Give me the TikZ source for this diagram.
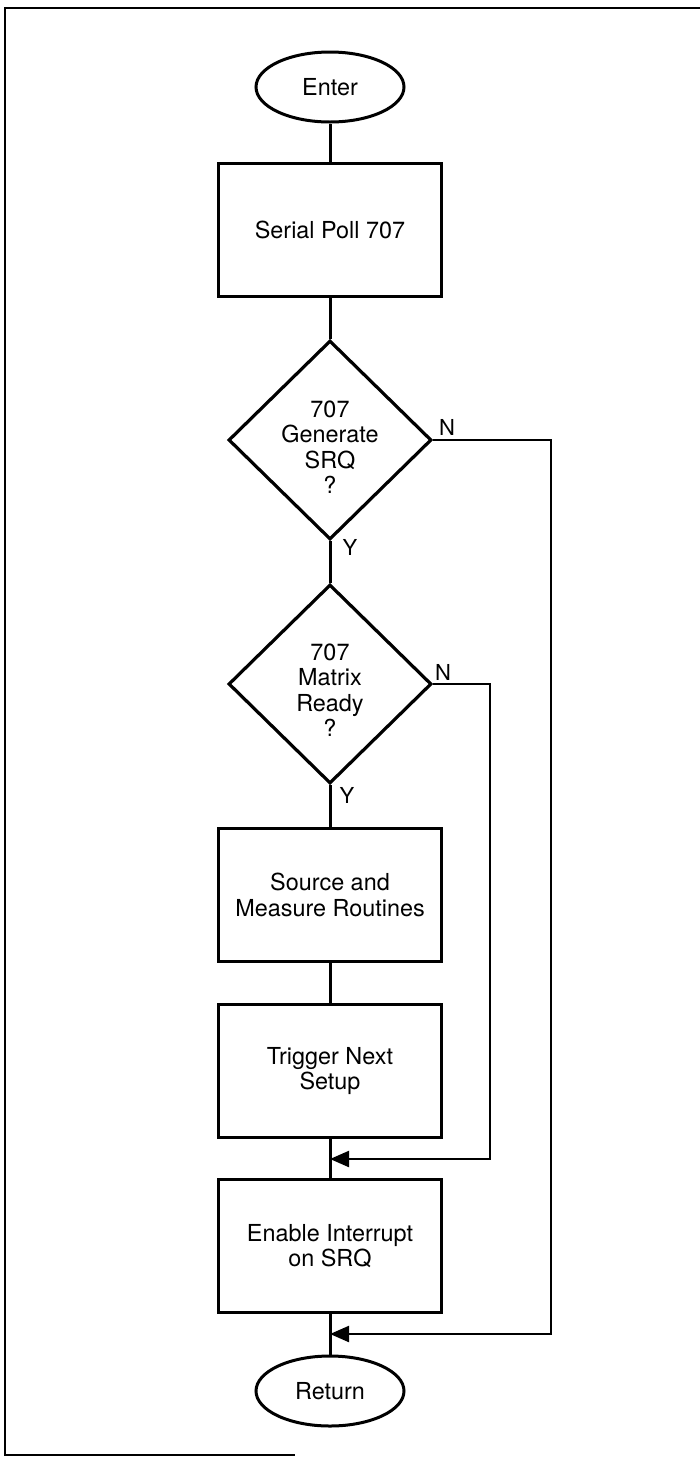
\documentclass[tikz,border=0pt]{standalone}
\usepackage{fontspec}
\setmainfont{TeX Gyre Heros}
\usetikzlibrary{shapes.geometric,arrows.meta}

\begin{document}
\begin{tikzpicture}[x=0.5pt, y=-0.5pt, every node/.style={font=\fontsize{11.7}{12.7}\selectfont, align=center, inner sep=0pt},
	flowbox/.style={draw, line width=1.5pt, minimum width=111.5pt, minimum height=66.5pt},
	terminal/.style={draw, ellipse, line width=1.5pt, minimum width=74pt, minimum height=35pt},
	decision/.style={draw, diamond, line width=1.6pt, minimum width=101.5pt, minimum height=99.5pt},
	flowline/.style={line width=1.5pt},
	loopline/.style={line width=1.1pt, -{Triangle[length=9.5pt, width=8pt]}},
	yn/.style={font=\fontsize{11}{12}\selectfont}]
	\useasboundingbox (0,0) rectangle (700,1457);
	\draw[line width=1pt] (700,8) -- (5,8) -- (5,1455) -- (295,1455);
	\node[terminal] (enter) at (330,87) {Enter};
	\node[flowbox] (poll) at (330,230) {Serial Poll 707};
	\node[decision] (srq) at (330,440) {};
	\node (srqtext) at (330,447) {707\\Generate\\SRQ\\?};
	\node[decision] (ready) at (330,684) {};
	\node (readytext) at (330,690) {707\\Matrix\\Ready\\?};
	\node[flowbox] (measure) at (330,895) {Source and\\Measure Routines};
	\node[flowbox] (trigger) at (330,1071) {Trigger Next\\Setup};
	\node[flowbox] (enable) at (330,1246) {Enable Interrupt\\on SRQ};
	\node[terminal] (return) at (330,1391) {Return};
	\coordinate (join1) at (330,1159);
	\coordinate (join2) at (330,1334);
	\draw[flowline] (enter) -- (poll) -- (srq) -- (ready) -- (measure) -- (trigger) -- (enable) -- (return);
	\draw[loopline] (srq.east) -- ++(118,0) |- (join2);
	\draw[loopline] (ready.east) -- ++(57,0) |- (join1);
	\node[yn] (srqno) at (447,427) {N};
	\node[yn] (srqyes) at (350,547) {Y};
	\node[yn] (readyno) at (443,672) {N};
	\node[yn] (readyyes) at (347,795) {Y};
\end{tikzpicture}
\end{document}
